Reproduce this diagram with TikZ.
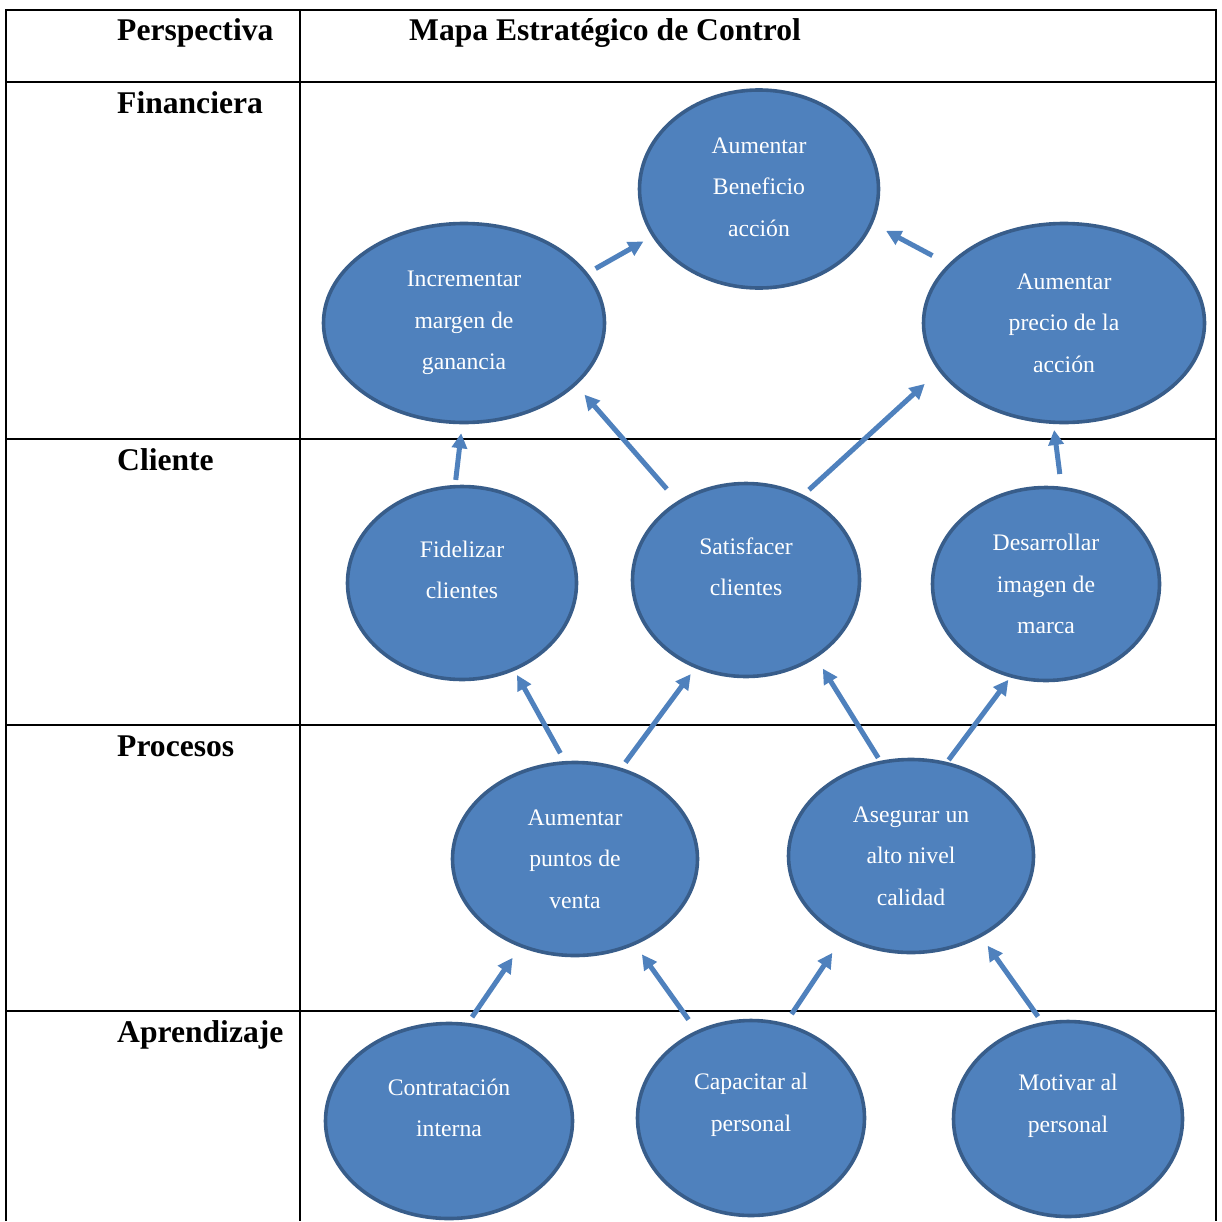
\documentclass[tikz,border=0pt]{standalone}
\usepackage{fontspec}
\setmainfont{Liberation Serif}
\usetikzlibrary{shapes.geometric,arrows.meta}
\definecolor{efill}{HTML}{4F81BD}
\definecolor{eborder}{HTML}{385D8A}
\definecolor{arr}{HTML}{4F81BD}
\tikzset{
  grid/.style={line width=2.6pt, black},
  hdr/.style={anchor=base west, font=\fontsize{31.6}{36}\selectfont\bfseries, inner sep=0},
  ell/.style={ellipse, draw=eborder, line width=3.6pt, fill=efill, inner sep=0},
  etext/.style={align=center, text=white, inner sep=0, font=\fontsize{23.7}{41.5}\selectfont},
  conn/.style={draw=arr, line width=5pt, -{Triangle[length=15pt,width=15pt]}}
}
\begin{document}
\begin{tikzpicture}[x=1pt,y=-1pt]
\useasboundingbox (0,0) rectangle (1222,1221);
% table
\draw[grid] (6,1221) -- (6,10) -- (1216,10) -- (1216,1221);
\draw[grid] (300,10) -- (300,1221);
\draw[grid] (6,82) -- (1216,82);
\draw[grid] (6,439) -- (1216,439);
\draw[grid] (6,725) -- (1216,725);
\draw[grid] (6,1011) -- (1216,1011);
% headers
\node[hdr] (hp) at (117,40) {Perspectiva};
\node[hdr] (hm) at (409,40) {Mapa Estratégico de Control};
\node[hdr] (hf) at (117,113) {Financiera};
\node[hdr] (hc) at (117,470) {Cliente};
\node[hdr] (hpr) at (117,756) {Procesos};
\node[hdr] (ha) at (117,1042) {Aprendizaje};
% ellipses
\node[ell, minimum width=239pt, minimum height=198pt] (ben) at (759,189) {};
\node[ell, minimum width=281pt, minimum height=199pt] (inc) at (464,323) {};
\node[ell, minimum width=281pt, minimum height=199pt] (pre) at (1064,323) {};
\node[ell, minimum width=229pt, minimum height=193pt] (fid) at (462,583) {};
\node[ell, minimum width=227pt, minimum height=193pt] (sat) at (746,580) {};
\node[ell, minimum width=227pt, minimum height=193pt] (des) at (1046,584) {};
\node[ell, minimum width=245pt, minimum height=193pt] (pun) at (575,859) {};
\node[ell, minimum width=245pt, minimum height=193pt] (ase) at (911,856) {};
\node[ell, minimum width=247pt, minimum height=195pt] (con) at (449,1121) {};
\node[ell, minimum width=227pt, minimum height=195pt] (cap) at (751,1118) {};
\node[ell, minimum width=229pt, minimum height=195pt] (mot) at (1068,1119) {};
% ellipse texts
\node[etext] (tben) at (759,187) {Aumentar\\Beneficio\\acción};
\node[etext] (tinc) at (464,323) {Incrementar\\margen de\\ganancia};
\node[etext] (tpre) at (1064,323) {Aumentar\\precio de la\\acción};
\node[etext] (tfid) at (462,570) {Fidelizar\\clientes};
\node[etext] (tsat) at (746,567) {Satisfacer\\clientes};
\node[etext] (tdes) at (1046,584) {Desarrollar\\imagen de\\marca};
\node[etext] (tpun) at (575,859) {Aumentar\\puntos de\\venta};
\node[etext] (tase) at (911,856) {Asegurar un\\alto nivel\\calidad};
\node[etext] (tcon) at (449,1108) {Contratación\\interna};
\node[etext] (tcap) at (751,1105) {Capacitar al\\personal};
\node[etext] (tmot) at (1068,1106) {Motivar al\\personal};
% connectors
\draw[conn, shorten <=9pt, shorten >=10pt] (inc.22.8) -- (ben.204.7);
\draw[conn, shorten <=18pt, shorten >=15pt] (pre.153.1) -- (ben.-17.9);
\draw[conn, shorten <=5pt, shorten >=9pt] (fid.94.4) -- (inc.269);
\draw[conn, shorten <=16pt, shorten >=12.5pt] (sat.131.6) -- (inc.-29.5);
\draw[conn, shorten <=7.5pt, shorten >=19pt] (sat.56.9) -- (pre.201);
\draw[conn, shorten <=12.7pt, shorten >=6pt] (des.81.7) -- (pre.264.1);
\draw[conn, shorten <=9pt, shorten >=5pt] (pun.96.9) -- (fid.-59.1);
\draw[conn, shorten <=6.7pt, shorten >=7.4pt] (pun.63.2) -- (sat.240.8);
\draw[conn, shorten <=3.5pt, shorten >=12.5pt] (ase.108.6) -- (sat.-48.8);
\draw[conn, shorten <=2.5pt, shorten >=3pt] (ase.69) -- (des.249.4);
\draw[conn, shorten <=7pt, shorten >=13pt] (con.79.2) -- (pun.238.4);
\draw[conn, shorten <=13.5pt, shorten >=11.5pt] (cap.122.7) -- (pun.-55.9);
\draw[conn, shorten <=11pt, shorten >=18pt] (cap.70.1) -- (ase.230.5);
\draw[conn, shorten <=7pt, shorten >=10.7pt] (mot.105.1) -- (ase.-49.1);
\end{tikzpicture}
\end{document}
